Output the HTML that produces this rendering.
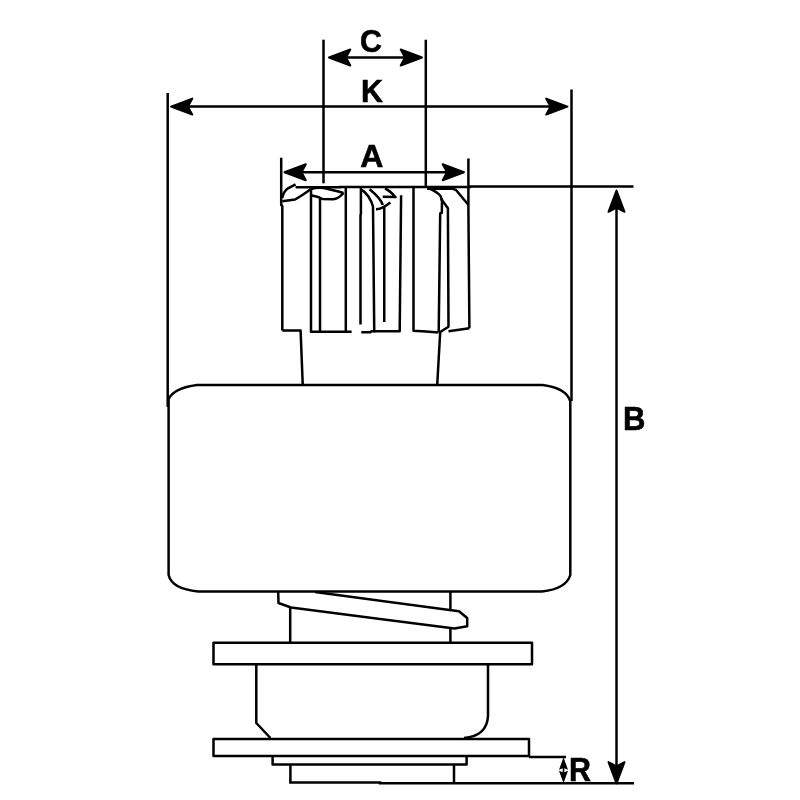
<!DOCTYPE html>
<html><head><meta charset="utf-8"><style>
html,body{margin:0;padding:0;background:#fff;width:800px;height:800px;overflow:hidden}
svg{display:block;will-change:transform}
text{-webkit-font-smoothing:antialiased}
text{font-family:"Liberation Sans",sans-serif;font-weight:bold;font-size:32px;fill:#000;stroke:#000;stroke-width:0.6px}
</style></head><body>
<svg width="800" height="800" viewBox="0 0 800 800">
<defs>
<path id="ah" d="M1,0 L22.3,-8 L18,0 L22.3,8 Z" fill="#000" stroke="#000" stroke-width="2" stroke-linejoin="round"/>
</defs>
<g fill="none" stroke="#000" stroke-width="2.5" stroke-linejoin="miter" stroke-linecap="butt">
<!-- C dimension -->
<path d="M323.5,39.7 V183.3"/>
<path d="M425.8,39.7 V186"/>
<path d="M330,57.5 H421"/>
<!-- K dimension -->
<path d="M167.7,93 V407"/>
<path d="M571.5,89.4 V401"/>
<path d="M172,106.6 H566"/>
<!-- A dimension -->
<path d="M281.2,157.7 V205 L282.3,206 V330.6"/>
<path d="M468.4,158.5 V210 L469.4,328.2"/>
<path d="M286,172.2 H463"/>
<!-- B dimension -->
<path d="M295.6,187.2 H340 L340,186.9 H470 L470,186.6 H633.5"/>
<path d="M616.5,192 V782"/>
<path d="M529,757 H566"/>
<path d="M289.2,782.6 H380 L380,783.3 H634"/>
<!-- R arrows line -->
</g>
<use href="#ah" transform="translate(328,57.5)"/>
<use href="#ah" transform="translate(423,57.5) scale(-1,1)"/>
<use href="#ah" transform="translate(170,106.6)"/>
<use href="#ah" transform="translate(568.5,106.6) scale(-1,1)"/>
<use href="#ah" transform="translate(283.5,172.2)"/>
<use href="#ah" transform="translate(465,172.2) scale(-1,1)"/>
<use href="#ah" transform="translate(616.5,189.5) rotate(90)"/>
<use href="#ah" transform="translate(616.5,784.4) rotate(-90)"/>
<!-- R small arrows -->
<path d="M563.5,757.3 L568,769.8 L563.5,768 L559,769.8 Z M563.5,783.3 L568,770.8 L563.5,772.6 L559,770.8 Z" fill="#000"/><path d="M563.5,767 V773" stroke="#000" stroke-width="1.6"/>
<g style="font-size:33.5px">
<text transform="translate(360,52.3) scale(0.95,1)">C</text>
<text transform="translate(361,102.2) scale(0.95,1)">K</text>
<text transform="translate(360.3,167.2) scale(1,1)">A</text>
<text transform="translate(623,429.7) scale(0.97,1.02)">B</text>
<text transform="translate(569,780.8) scale(0.95,1.01)">R</text>
</g>
<g fill="none" stroke="#000" stroke-width="2.5" stroke-linejoin="round" stroke-linecap="butt">
<!-- gear -->
<path d="M282.3,330.6 H300.6 L302.75,385"/>
<path d="M295.6,184.3 L288,188.3 C285,190.5 283,193.5 282.3,198"/>
<path d="M282.3,201.3 L295,199.5 C300,197 306,192.5 311,189"/>
<path d="M311,189 V331.8 H351.6"/>
<path d="M311,189 C317,187.3 322,187.3 328,189 C334,190.5 339,191.5 343.5,193"/>
<path d="M311,195.3 L319,197.3 L322.5,199 L333,199.3 C337,199 340,197 343.5,193"/>
<path d="M320,198 V332"/>
<path d="M345.8,188 V331"/>
<path d="M360.9,188 V214 L360.5,215 V324.4"/>
<path d="M361.25,332.2 H370.6 L371.5,331.2 H375"/>
<path d="M361.75,190 C366,192 371,199 373,206.5 L374.25,331.2 H399.7 L401.1,195.3"/>
<path d="M369.6,189.25 C376,194.5 381,199 382.75,205"/>
<path d="M376,209.3 C379,209.3 382,208 384.5,206.5 C387,205 389,203.5 390.3,202.5"/>
<path d="M384.25,206 V322"/>
<path d="M382.75,196.75 L395.5,197.1 C392,193 389,190 385,188.5"/>
<path d="M413.5,187 V330.8 L426,331.5 L438.5,332.5"/>
<path d="M427.5,187.7 C433,190 438,193 440.5,196 C441.5,198 442,200 442,202 L441.8,212.8 L440.2,213.5 L438.7,332"/>
<path d="M440.9,198.6 L447.9,208.25 L448.5,326.7 L440.2,332 L437.2,385"/>
<path d="M427,188.8 H453 L456,190 L468.5,205"/>
<path d="M469.4,328.2 L448.5,331.2"/>
<!-- body -->
<path d="M197,385 H542.5 Q566,388 570.3,401 V575 Q566,589 542,591.4 H198 Q172,589 168.6,575 V399 Q174,388 197,385 Z"/>
<!-- helix -->
<path d="M278.2,592 L278.5,603 L291,607.5 L454.5,628.5 L467.2,626.2 V618 L459,611.2 L315,592"/>
<path d="M290.2,607.5 V642.4"/>
<path d="M450.4,592 V609"/>
<path d="M450.4,628.5 V642.4"/>
<!-- flange 1 -->
<rect x="213.5" y="642.8" width="318.5" height="21.4"/>
<!-- cylinder -->
<path d="M256.3,664 V723 L270.4,738"/>
<path d="M488,664 V716 Q487,736 464,738"/>
<!-- flange 2 -->
<rect x="213.5" y="739" width="315.5" height="17"/>
<!-- bottom piece -->
<path d="M272.6,756 V764.4 H466.6 V756"/>
<path d="M290.4,764.4 V782.6"/>
<path d="M454,764.4 V782.6"/>
</g>
</svg>
</body></html>
